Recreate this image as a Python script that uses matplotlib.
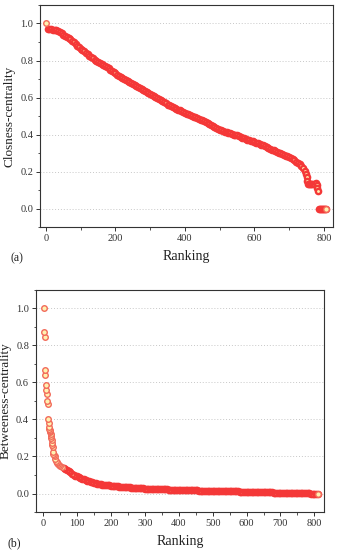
import numpy as np
import matplotlib
matplotlib.use("Agg")
import matplotlib.pyplot as plt
from matplotlib.ticker import MultipleLocator

plt.rcParams['font.family'] = ['Liberation Serif', 'DejaVu Serif']

# (a) closeness centrality, read every 5 ranks, then the irregular tail
close_rank = list(range(0, 746, 5))
close_val = [
    1.000, 0.970, 0.969, 0.968, 0.967, 0.966, 0.964, 0.960, 0.955, 0.948,
    0.940, 0.934, 0.927, 0.921, 0.914, 0.907, 0.898, 0.889, 0.880, 0.871,
    0.863, 0.856, 0.849, 0.841, 0.834, 0.827, 0.820, 0.812, 0.805, 0.798,
    0.791, 0.786, 0.780, 0.775, 0.769, 0.764, 0.757, 0.750, 0.744, 0.737,
    0.730, 0.724, 0.718, 0.712, 0.706, 0.700, 0.695, 0.690, 0.684, 0.679,
    0.674, 0.669, 0.663, 0.658, 0.652, 0.647, 0.642, 0.636, 0.631, 0.625,
    0.620, 0.615, 0.609, 0.604, 0.598, 0.593, 0.587, 0.580, 0.574, 0.568,
    0.562, 0.557, 0.553, 0.548, 0.543, 0.539, 0.535, 0.530, 0.526, 0.521,
    0.517, 0.513, 0.509, 0.505, 0.501, 0.497, 0.493, 0.488, 0.484, 0.480,
    0.476, 0.471, 0.466, 0.461, 0.457, 0.452, 0.447, 0.442, 0.437, 0.432,
    0.427, 0.423, 0.420, 0.416, 0.412, 0.409, 0.406, 0.403, 0.400, 0.398,
    0.395, 0.391, 0.388, 0.384, 0.381, 0.377, 0.373, 0.370, 0.366, 0.363,
    0.359, 0.355, 0.352, 0.348, 0.345, 0.341, 0.337, 0.332, 0.328, 0.323,
    0.319, 0.315, 0.311, 0.307, 0.303, 0.299, 0.295, 0.290, 0.286, 0.282,
    0.277, 0.272, 0.266, 0.260, 0.254, 0.248, 0.243, 0.232, 0.218, 0.203,
]
close_tail_rank = [748, 750, 752, 755, 758, 761, 764, 767, 770, 776, 779, 781, 783,
                   785, 788, 791, 794, 797, 800, 803, 806]
close_tail_val = [0.187, 0.172, 0.150, 0.134, 0.134, 0.134, 0.134, 0.134, 0.134,
                  0.137, 0.125, 0.110, 0.094,
                  0.0, 0.0, 0.0, 0.0, 0.0, 0.0, 0.0, 0.0]

# (b) betweenness centrality, first ranks read point by point, then every 5 ranks
betw_head_rank = [1, 3, 4, 5, 6, 8, 9, 10, 12, 13, 15, 16, 17, 18, 19, 20, 21, 22,
                  23, 24, 25, 26, 27, 28, 29, 30, 32, 34, 36, 38, 40, 42, 45, 48, 51, 55]
betw_head_val = [1.0, 0.875, 0.845, 0.668, 0.640, 0.588, 0.560, 0.537, 0.500, 0.483,
                 0.402, 0.380, 0.362, 0.350, 0.342, 0.337, 0.333, 0.320, 0.310, 0.300,
                 0.290, 0.275, 0.262, 0.250, 0.222, 0.215, 0.210, 0.200, 0.185, 0.175,
                 0.170, 0.165, 0.160, 0.155, 0.150, 0.144]
betw_rank = list(range(60, 811, 5))
betw_val = [
    0.138, 0.132, 0.127, 0.122, 0.114, 0.107, 0.101, 0.096,
    0.092, 0.088, 0.084, 0.080, 0.076, 0.072, 0.069, 0.066, 0.063, 0.060,
    0.057, 0.055, 0.053, 0.051, 0.049, 0.048, 0.047, 0.046, 0.045, 0.044,
    0.042, 0.041, 0.040, 0.039, 0.038, 0.037, 0.036, 0.036, 0.035, 0.034,
    0.033, 0.033, 0.032, 0.031, 0.031, 0.030, 0.030, 0.029, 0.028, 0.028,
    0.027, 0.027, 0.026, 0.026, 0.025, 0.025, 0.024, 0.024, 0.023, 0.023,
    0.023, 0.022, 0.022, 0.022, 0.021, 0.021, 0.021, 0.020, 0.020, 0.020,
    0.020, 0.019, 0.019, 0.019, 0.018, 0.018, 0.018, 0.018, 0.017, 0.017,
    0.017, 0.017, 0.016, 0.016, 0.016, 0.016, 0.015, 0.015, 0.015, 0.015,
    0.014, 0.014, 0.014, 0.014, 0.013, 0.013, 0.013, 0.013, 0.012, 0.012,
    0.012, 0.012, 0.011, 0.011, 0.011, 0.011, 0.010, 0.010, 0.010, 0.010,
    0.009, 0.009, 0.009, 0.009, 0.008, 0.008, 0.008, 0.008, 0.007, 0.007,
    0.007, 0.007, 0.006, 0.006, 0.006, 0.006, 0.005, 0.005, 0.005, 0.005,
    0.005, 0.004, 0.004, 0.004, 0.004, 0.003, 0.003, 0.003, 0.003, 0.002,
    0.002, 0.002, 0.002, 0.001, 0.001, 0.001, 0.001, 0.001, 0.000, 0.000,
    0.000, 0.000, 0.000,
]

EDGE = '#F43838'
FILL = '#FFF1B0'
dense = dict(linestyle='none', marker='o', markersize=3.8, markerfacecolor=FILL,
             markeredgecolor=EDGE, markeredgewidth=1.7)
sparse = dict(linestyle='none', marker='o', markersize=4.0, markerfacecolor=FILL,
              markeredgecolor='#F26A5A', markeredgewidth=1.0)


def style_axes(ax, ylabel, xmajor, xminor, label):
    ax.set_ylim(-0.1, 1.1)
    ax.yaxis.set_major_locator(MultipleLocator(0.2))
    ax.yaxis.set_minor_locator(MultipleLocator(0.1))
    ax.xaxis.set_major_locator(MultipleLocator(xmajor))
    ax.xaxis.set_minor_locator(MultipleLocator(xminor))
    ax.yaxis.set_major_formatter(plt.FormatStrFormatter('%.1f'))
    ax.grid(axis='y', which='major', linestyle=(0, (1, 2)), color='#c8c8c8', linewidth=0.7)
    ax.set_axisbelow(True)
    ax.tick_params(which='major', direction='out', length=3, width=0.7, labelsize=7.5,
                   top=False, right=False, pad=2, colors='#333333')
    ax.tick_params(which='minor', direction='out', length=1.8, width=0.6,
                   top=False, right=False, colors='#333333')
    for s in ax.spines.values():
        s.set_linewidth(0.8)
        s.set_color('#333333')
    ax.set_ylabel(ylabel, fontsize=9.5, labelpad=3, color='#222222')
    ax.set_xlabel('Ranking', fontsize=10, labelpad=5, color='#222222')
    ax.text(-0.1, -0.155, label, transform=ax.transAxes, fontsize=8.5, color='#222222')


fig = plt.figure(figsize=(3.37, 5.5), dpi=100)

ax1 = fig.add_axes([0.119, 0.587, 0.869, 0.404])
ax1.plot(close_rank[1:] + close_tail_rank, close_val[1:] + close_tail_val, **dense)
ax1.plot(close_rank[:1], close_val[:1], **sparse)
ax1.plot(close_tail_rank[-1:], close_tail_val[-1:], **sparse)
ax1.set_xlim(-17, 826)
style_axes(ax1, 'Closness-centrality', 200, 100, '(a)')

ax2 = fig.add_axes([0.107, 0.069, 0.855, 0.404])
ax2.plot(betw_rank[::-1], betw_val[::-1], **dense)
ax2.plot(betw_head_rank[::-1], betw_head_val[::-1], **sparse)
ax2.plot(betw_rank[-1:], betw_val[-1:], **sparse)
ax2.set_xlim(-21, 829)
style_axes(ax2, 'Betweeness-centrality', 100, 50, '(b)')

fig.savefig('out.png', dpi=100)
